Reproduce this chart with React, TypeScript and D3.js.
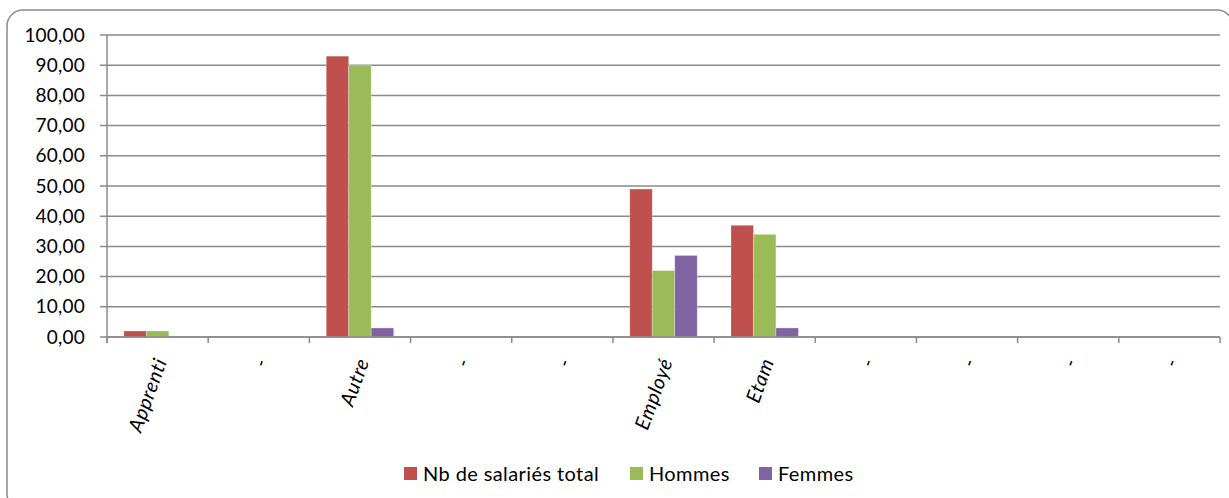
import React from "react";
import * as d3 from "d3";

const categories = ["Apprenti", "-", "Autre", "-", "-", "Employé", "Etam", "-", "-", "-", "-"];
const seriesNames = ["Nb de salariés total", "Hommes", "Femmes"];
const totalValues = [2, 0, 93, 0, 0, 49, 37, 0, 0, 0, 0];
const hommesValues = [2, 0, 90, 0, 0, 22, 34, 0, 0, 0, 0];
const femmesValues = [0, 0, 3, 0, 0, 27, 3, 0, 0, 0, 0];
const yTicks = [0, 10, 20, 30, 40, 50, 60, 70, 80, 90, 100];
const colors = ["#C0504D", "#9BBB59", "#8064A2"];

const W = 1229;
const H = 498;
const left = 107;
const right = 1220;
const top = 35;
const bottom = 337;
const font = "Lato, 'Open Sans', sans-serif";
const gray = "#8a8a8a";

export default function App() {
  const series = [totalValues, hommesValues, femmesValues];
  const idx = categories.map((_, i) => String(i));
  const x0 = d3.scaleBand<string>().domain(idx).range([left, right]).paddingInner(1 / 3).paddingOuter(1 / 6);
  const x1 = d3.scaleBand<string>().domain(seriesNames).range([0, x0.bandwidth()]).padding(0);
  const y = d3.scaleLinear().domain([0, 100]).range([bottom, top]);
  const fmt = (v: number) => d3.format(".2f")(v).replace(".", ",");
  const step = x0.step();
  const tickXs = d3.range(categories.length + 1).map((i) => left + i * step);

  return (
    <div style={{ position: "absolute", left: 0, top: 0 }}>
      <svg width={W} height={H} style={{ display: "block", background: "#fff" }}>
        <rect x={7} y={10} width={1226} height={500} rx={16} ry={16} fill="#fff" stroke={gray} strokeWidth={1.5} />
        {yTicks.map((t) => (
          <g key={t}>
            <line x1={left - 7} x2={right} y1={y(t)} y2={y(t)} stroke={gray} strokeWidth={1.5} />
            <text x={85} y={y(t)} dy="0.35em" textAnchor="end" fontFamily={font} fontSize={19} letterSpacing={0.2} fill="#000">
              {fmt(t)}
            </text>
          </g>
        ))}
        <line x1={left} x2={left} y1={top} y2={bottom + 6} stroke={gray} strokeWidth={1.5} />
        {tickXs.map((tx, i) => (
          <line key={i} x1={tx} x2={tx} y1={bottom} y2={bottom + 6} stroke={gray} strokeWidth={1.5} />
        ))}
        {categories.map((c, i) => (
          <g key={i} transform={`translate(${x0(String(i))!},0)`}>
            {series.map((vals, s) =>
              vals[i] > 0 ? (
                <rect
                  key={s}
                  x={x1(seriesNames[s])!}
                  y={y(vals[i])}
                  width={x1.bandwidth()}
                  height={y(0) - y(vals[i])}
                  fill={colors[s]}
                  stroke="rgba(255,255,255,0.35)"
                  strokeWidth={0.8}
                />
              ) : null
            )}
          </g>
        ))}
        <line x1={left} x2={right} y1={bottom} y2={bottom} stroke={gray} strokeWidth={1.5} />
        {categories.map((c, i) => {
          const cx = x0(String(i))! + x0.bandwidth() / 2;
          return (
            <text
              key={i}
              transform={`translate(${cx + 3},${bottom + 22}) rotate(-70)`}
              textAnchor="end"
              dy="0.35em"
              fontFamily={font}
              fontStyle="italic"
              fontSize={20}
              letterSpacing={0.6}
              fill="#000"
            >
              {c}
            </text>
          );
        })}
        {seriesNames.map((n, s) => {
          const lx = [404, 630, 759][s];
          return (
            <g key={n}>
              <rect x={lx} y={467} width={13} height={13} fill={colors[s]} />
              <text x={lx + 19} y={474} dy="0.35em" fontFamily={font} fontSize={20} letterSpacing={0.4} fill="#000">
                {n}
              </text>
            </g>
          );
        })}
      </svg>
    </div>
  );
}
